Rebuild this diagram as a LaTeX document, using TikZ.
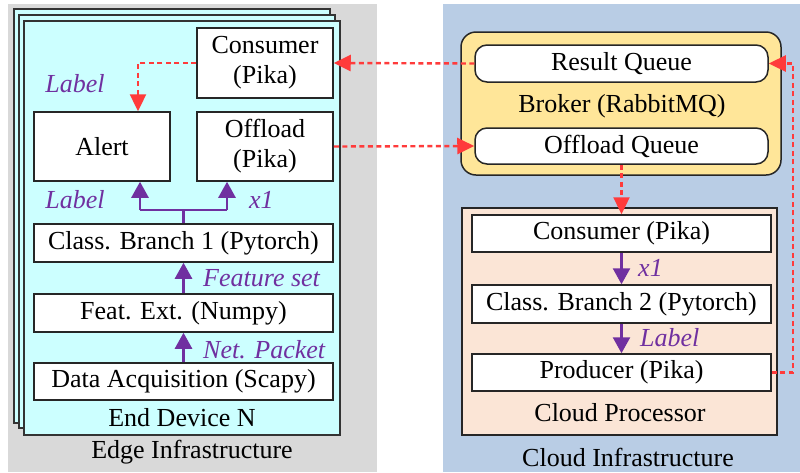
\documentclass[tikz,border=0pt]{standalone}
\usepackage{fontspec}
\setmainfont{Liberation Serif}
\usetikzlibrary{arrows.meta,calc}
\definecolor{edgegray}{HTML}{D9D9D9}
\definecolor{cardcyan}{HTML}{CCFFFF}
\definecolor{cloudblue}{HTML}{B9CDE5}
\definecolor{brokeryel}{HTML}{FFE699}
\definecolor{procpeach}{HTML}{FBE5D6}
\definecolor{lblpurple}{HTML}{7030A0}
\definecolor{msgred}{HTML}{FF3B3B}
\begin{document}
\begin{tikzpicture}[x=1pt,y=-1pt,
  every node/.style={font=\fontsize{26}{30}\selectfont, inner sep=0pt},
  box/.style={draw=black!85, line width=1.5pt, fill=white, align=center},
  qbox/.style={box, rounded corners=12pt},
  card/.style={draw=black!80, line width=1.5pt, fill=cardcyan},
  lbl/.style={text=lblpurple, font=\fontsize{26}{30}\selectfont\itshape},
  parr/.style={draw=lblpurple, line width=2.6pt, -{Triangle[length=16pt,width=17pt]}},
  pline/.style={draw=lblpurple, line width=2.6pt},
  rarr/.style={draw=msgred, line width=2.4pt, dash pattern=on 5pt off 3.5pt, -{Triangle[length=17pt,width=16pt]}}
]
\useasboundingbox (0,0) rectangle (800,472);
\fill[white] (0,0) rectangle (800,472);
% panels
\fill[edgegray] (8,4) rectangle (377,472);
\fill[cloudblue] (443,4) rectangle (800,472);
% stacked cards
\draw[card] (14,9) rectangle (330,423);
\draw[card] (19,15) rectangle (335,428);
\draw[card] (24,21) rectangle (340,435);
% edge nodes
\node[box, minimum width=136pt, minimum height=70pt] (cons) at (265,63) {Consumer\\(Pika)};
\node[box, minimum width=136pt, minimum height=69pt] (alert) at (102,146.5) {Alert};
\node[box, minimum width=136pt, minimum height=69pt] (offl) at (265,146.5) {Offload\\(Pika)};
\node[box, minimum width=299pt, minimum height=38pt] (cb1) at (183.5,243) {Class. Branch 1 (Pytorch)};
\node[box, minimum width=299pt, minimum height=38pt] (fe) at (183.5,313) {Feat. Ext. (Numpy)};
\node[box, minimum width=299pt, minimum height=37pt] (da) at (183.5,381.5) {Data Acquisition (Scapy)};
\node (devn) at (182,418) {End Device N};
\node (edge) at (192,452) {Edge Infrastructure};
% edge labels
\node[lbl] (l1) at (75,84) {Label};
\node[lbl] (l2) at (75,200) {Label};
\node[lbl, anchor=west] (x1a) at (249,200) {x1};
\node[lbl, anchor=west] (fs) at (203,278) {Feature set};
\node[lbl, anchor=west] (np) at (203,350) {Net. Packet};
% broker
\node[draw=black!85, line width=1.5pt, fill=brokeryel, rounded corners=15pt, minimum width=320pt, minimum height=143pt] (broker) at (621,103.5) {};
\node[qbox, minimum width=293pt, minimum height=37pt] (rq) at (621.5,63.5) {Result Queue};
\node[qbox, minimum width=293pt, minimum height=36pt] (oq) at (621.5,146) {Offload Queue};
\node (brokert) at (622,106) {Broker (RabbitMQ)};
% cloud processor
\node[draw=black!85, line width=1.8pt, fill=procpeach, minimum width=315pt, minimum height=227pt] (proc) at (619.5,321.5) {};
\node[box, minimum width=299pt, minimum height=37pt] (ccons) at (621.5,233.5) {Consumer (Pika)};
\node[box, minimum width=299pt, minimum height=38pt] (cb2) at (621.5,304) {Class. Branch 2 (Pytorch)};
\node[box, minimum width=299pt, minimum height=37pt] (prod) at (621.5,372.5) {Producer (Pika)};
\node (proct) at (620,413) {Cloud Processor};
\node (cloud) at (628,457) {Cloud Infrastructure};
\node[lbl, anchor=west] (x1b) at (638,268) {x1};
\node[lbl, anchor=west] (l3) at (640,338) {Label};
% purple arrows edge
\coordinate (jn) at (183.5,210);
\coordinate (ja) at (140,210);
\coordinate (jo) at (227,210);
\draw[pline] (cb1.north) -- (jn);
\draw[pline] (ja) -- (jo);
\draw[parr] (ja) -- (ja |- alert.south);
\draw[parr] (jo) -- (jo |- offl.south);
\draw[parr] (fe.north) -- (cb1.south);
\draw[parr] (da.north) -- (fe.south);
% purple arrows cloud
\draw[parr] (ccons.south) -- (cb2.north);
\draw[parr] (cb2.south) -- (prod.north);
% red dashed
\coordinate (ac) at (138,63);
\draw[rarr] (cons.west) -- (ac) -- (ac |- alert.north);
\draw[rarr] (rq.west) -- (cons.east);
\draw[rarr] (offl.east) -- (oq.west);
\draw[rarr] (oq.south) -- (ccons.north);
\coordinate (pc) at (793,372.5);
\draw[rarr] (prod.east) -- (pc) |- (rq.east);
\end{tikzpicture}
\end{document}
